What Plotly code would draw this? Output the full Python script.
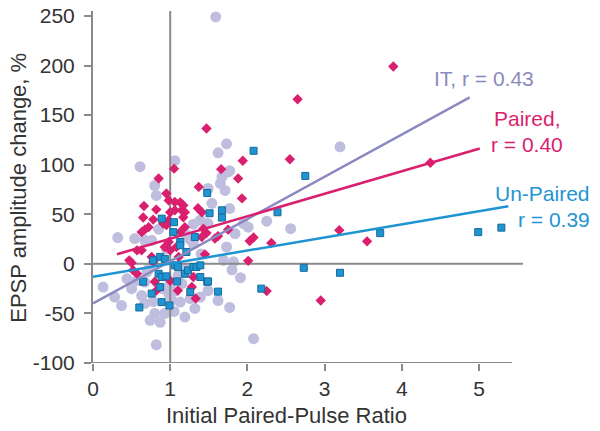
import plotly.graph_objects as go

# ---- data ----
it_x = [1.59, 1.73, 1.62, 0.61, 1.06, 1.77, 3.20, 2.56, 2.25, 1.73, 1.82, 1.80, 1.91, 1.77, 2.08,
        1.95, 2.01, 1.49, 1.65, 1.71, 1.75, 1.67, 1.54, 1.77, 1.84, 1.39, 1.49, 0.80, 0.82, 0.32,
        0.54, 0.67, 0.76, 0.13, 0.28, 0.37, 0.74, 0.87, 0.82, 1.19, 1.02, 1.13, 1.26, 1.39, 1.62,
        1.49, 1.69, 0.50, 0.63, 0.67, 0.80, 0.93, 0.44, 0.57, 0.67, 1.32, 0.90, 1.00, 1.15, 1.20,
        0.95, 1.25, 1.40, 1.30, 0.85, 1.20, 1.30, 1.05, 0.72, 0.98, 0.70, 1.10, 0.78, 1.05]
it_y = [249, 121, 112, 98, 104, 94, 118, 35.5, 43, 17, 2, -6, -14, -44, -75.5,
        40.6, 37, 76, 81, 74, 92.7, 87.7, 61, 55.7, 30.5, 44, 40.6, 79, 69, 26.5,
        25.5, 23.7, 23.7, -23.4, -33.5, -42, -57, -59, -81.6, -53.7, -37, -38.6, -35, -33.5, -37,
        -27, 3.5, -25, -32, -40, -50, -50, -15, -16.7, -18.4, -45, -25, -20, -20, -5,
        15, 25, 10, 40, 35, 30, 20, -28, -5, -30, -8, -12, -38, -48]

paired_x = [1.47, 1.94, 2.55, 0.85, 1.05, 1.66, 1.88, 3.89, 2.65, 1.93, 4.37, 3.19, 3.55, 2.31, 2.08,
            2.03, 2.01, 2.95, 2.25, 1.45, 1.37, 1.13, 1.17, 1.15, 1.19, 1.17, 1.36, 1.41, 1.75, 1.62,
            1.58, 1.43, 1.47, 1.41, 1.19, 1.13, 0.95, 0.98, 1.06, 0.66, 0.82, 0.65, 0.78, 1.00, 1.06,
            0.98, 0.91, 0.95, 0.72, 0.67, 0.63, 0.47, 0.50, 0.57, 0.63, 0.76, 0.78, 0.52, 0.57, 0.80,
            0.82, 1.00, 1.10, 1.33, 1.28, 1.30, 0.98, 0.93, 1.08, 1.00, 1.11]
paired_y = [136.5, 104, 105.5, 86, 96, 95.5, 86, 199, 166, 66, 102, 34, 22.7, 21, 26.5,
            23, 3, -37, -27.5, 9.6, 77.6, 62, 59, 54, 52, 47, 56, 52, 34.5, 28,
            25.5, 35.5, 31, 27, 37, 32, 71, 64, 62.4, 58.4, 54.7, 46.7, 44.6, 52, 54,
            44, 40.6, 39, 37, 34.5, 32, 3.5, 1, 13.6, 13.6, 7, 2, -6.5, -10, -18,
            -27, -17, -27, -35, -23.4, -13.3, 22, 17, 17, 13.6, 7]

unpaired_x = [2.08, 2.75, 1.48, 3.72, 4.99, 5.29, 2.39, 2.73, 3.20, 2.18, 1.62, 1.48, 1.51, 1.67, 1.67,
              1.13, 1.32, 0.89, 1.05, 1.04, 0.65, 0.76, 0.87, 0.89, 0.60, 0.99, 1.26, 1.09, 1.39, 1.49,
              0.85, 0.89, 0.95, 1.19, 1.23, 1.30, 1.34, 1.39, 1.06, 1.10, 0.87, 0.93, 0.78, 1.13, 1.21]
unpaired_y = [114, 88.7, 71.5, 31, 32, 36.5, 52, -4, -9, -25, -28, -18, 51, 54, 46.7,
              22, 27, 45.6, 42, 32, -18, -30, -23.4, -38.6, -44, -42, -28.5, -17.7, -13.3, -17.7,
              -10, -13.3, -12.6, -10, -6.6, -3.2, -3.2, -1.5, -1.5, -3.2, 7, 5, 3.5, 18.7, 12]

# regression lines: x extent, intercept, slope
fit_it = dict(x0=0.0, x1=4.88, b=-40.0, m=42.6)
fit_paired = dict(x0=0.31, x1=5.01, b=2.6, m=22.7)
fit_unpaired = dict(x0=0.0, x1=5.38, b=-13.0, m=13.2)

x_ticks = [0, 1, 2, 3, 4, 5]
y_ticks = [-100, -50, 0, 50, 100, 150, 200, 250]

labels = {
    "it": "IT, r = 0.43",
    "paired1": "Paired,",
    "paired2": "r = 0.40",
    "unpaired1": "Un-Paired",
    "unpaired2": "r = 0.39",
}

C_IT_PT = "#c0bedf"
C_IT_LN = "#8c89c0"
C_PAIR = "#d91f6e"
C_UNP = "#1e95d2"
C_UNP_EDGE = "#17699a"
C_AX = "#8a8a8a"
FONT = "Liberation Sans, Arial, sans-serif"

fig = go.Figure()

fig.add_trace(go.Scatter(x=it_x, y=it_y, mode="markers",
                         marker=dict(symbol="circle", size=11, color=C_IT_PT, line=dict(width=0)),
                         showlegend=False, hoverinfo="skip"))

# reference lines at x = 1 and y = 0
fig.add_trace(go.Scatter(x=[1, 1], y=[-100, 255], mode="lines",
                         line=dict(color=C_AX, width=2), showlegend=False, hoverinfo="skip"))
fig.add_trace(go.Scatter(x=[0, 5.57], y=[0, 0], mode="lines",
                         line=dict(color=C_AX, width=2), showlegend=False, hoverinfo="skip"))

fig.add_trace(go.Scatter(x=paired_x, y=paired_y, mode="markers",
                         marker=dict(symbol="diamond", size=8, color=C_PAIR, line=dict(width=0)),
                         showlegend=False, hoverinfo="skip"))
fig.add_trace(go.Scatter(x=unpaired_x, y=unpaired_y, mode="markers",
                         marker=dict(symbol="square", size=7, color=C_UNP,
                                     line=dict(width=1, color=C_UNP_EDGE)),
                         showlegend=False, hoverinfo="skip"))

for fit, col in [(fit_it, C_IT_LN), (fit_paired, C_PAIR), (fit_unpaired, C_UNP)]:
    xs = [fit["x0"], fit["x1"]]
    ys = [fit["b"] + fit["m"] * v for v in xs]
    fig.add_trace(go.Scatter(x=xs, y=ys, mode="lines", line=dict(color=col, width=2.5),
                             showlegend=False, hoverinfo="skip"))

# x axis baseline (shorter than zero line)
fig.add_shape(type="line", xref="x", yref="y", x0=0, x1=5.43, y0=-100, y1=-100,
              line=dict(color=C_AX, width=2))

fig.update_xaxes(range=[0, 5.57], tickvals=x_ticks, ticktext=[str(v) for v in x_ticks],
                 ticks="outside", ticklen=7, tickwidth=1.5, tickcolor=C_AX,
                 showline=False, showgrid=False, zeroline=False, automargin=False,
                 ticklabeloverflow="allow",
                 tickfont=dict(family=FONT, size=21, color="#333333"))
fig.update_yaxes(range=[-100, 255], tickvals=y_ticks, ticktext=[str(v) for v in y_ticks],
                 ticks="outside", ticklen=7, tickwidth=1.5, tickcolor=C_AX,
                 showline=True, linecolor=C_AX, linewidth=2, automargin=False,
                 showgrid=False, zeroline=False, ticklabelstandoff=5,
                 ticklabeloverflow="allow",
                 tickfont=dict(family=FONT, size=21, color="#333333"))

ann = [
    dict(text=labels["it"], x=0.788, y=0.809, xanchor="left", yanchor="middle", color=C_IT_LN),
    dict(text=labels["paired1"], x=1.092, y=0.696, xanchor="right", yanchor="middle", color=C_PAIR),
    dict(text=labels["paired2"], x=1.098, y=0.620, xanchor="right", yanchor="middle", color=C_PAIR),
    dict(text=labels["unpaired1"], x=1.160, y=0.481, xanchor="right", yanchor="middle", color=C_UNP),
    dict(text=labels["unpaired2"], x=1.161, y=0.409, xanchor="right", yanchor="middle", color=C_UNP),
]
for a in ann:
    fig.add_annotation(text=a["text"], x=a["x"], y=a["y"], xref="paper", yref="paper",
                       xanchor=a["xanchor"], yanchor=a["yanchor"], showarrow=False,
                       font=dict(family=FONT, size=21, color=a["color"]))

fig.add_annotation(text="Initial Paired-Pulse Ratio", x=0.451, y=-0.149, xref="paper", yref="paper",
                   xanchor="center", yanchor="middle", showarrow=False,
                   font=dict(family=FONT, size=22, color="#333333"))
fig.add_annotation(text="EPSP amplitude change, %", x=-0.172, y=0.498, xref="paper", yref="paper",
                   xanchor="center", yanchor="middle", showarrow=False, textangle=-90,
                   font=dict(family=FONT, size=22, color="#333333"))

fig.update_layout(width=600, height=431, margin=dict(l=93, r=77, t=11, b=68),
                  plot_bgcolor="white", paper_bgcolor="white")

# remove the default page margin so the 600x431 figure fills the window exactly
fig.write_html("out.html",
               config={"displayModeBar": False},
               post_script="document.body.style.margin='0';document.body.style.overflow='hidden';")
